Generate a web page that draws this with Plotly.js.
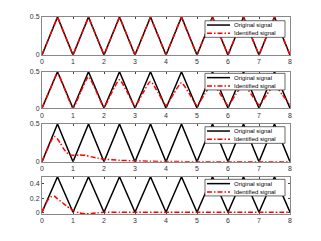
<!DOCTYPE html>
<html><head><meta charset="utf-8">
<script src="https://cdn.plot.ly/plotly-3.0.1.min.js"></script>
<style>html,body{margin:0;padding:0;background:#fff}#c{width:321px;height:241px}</style>
</head><body><div id="c"></div>
<script>
// Original triangle signal
var xOrig = [0,0.5,1,1.5,2,2.5,3,3.5,4,4.5,5,5.5,6,6.5,7,7.5,8];
var yOrig = [0,0.5,0,0.5,0,0.5,0,0.5,0,0.5,0,0.5,0,0.5,0,0.5,0];

// Identified signal, panel 1 (matches original)
var xId1 = [0,0.5,1,1.5,2,2.5,3,3.5,4,4.5,5,5.5,6,6.5,7,7.5,8];
var yId1 = [0,0.5,0,0.5,0,0.5,0,0.5,0,0.5,0,0.5,0,0.5,0,0.5,0];

// Identified signal, panel 2
var xId2 = [0,0.25,0.5,0.75,1,1.25,1.5,1.75,2,2.25,2.5,2.75,3,3.25,3.5,3.75,4,4.25,4.5,4.75,5,5.25,5.5,5.75,6,6.25,6.5,6.75,7,7.25,7.5,7.75,8];
var yId2 = [0,0.245,0.475,0.245,0.005,0.225,0.43,0.23,0.02,0.215,0.39,0.22,0.03,0.205,0.365,0.21,0.04,0.2,0.35,0.2,0.042,0.195,0.335,0.195,0.045,0.19,0.325,0.19,0.05,0.185,0.315,0.185,0.055];

// Identified signal, panel 3
var xId3 = [0,0.1,0.2,0.3,0.4,0.5,0.6,0.7,0.8,0.9,1.0,1.2,1.4,1.6,1.8,2.0,2.5,3,3.5,4,5,6,7,8];
var yId3 = [0,0.1,0.19,0.28,0.335,0.3,0.24,0.17,0.12,0.095,0.085,0.09,0.085,0.065,0.048,0.035,0.02,0.012,0.007,0.004,0.001,0,0,0];

// Identified signal, panel 4
var xId4 = [0,0.1,0.2,0.3,0.4,0.5,0.6,0.7,0.8,0.9,1.0,1.2,1.4,1.6,1.8,2.0,2.5,3,4,5,6,7,8];
var yId4 = [0,0.1,0.18,0.22,0.225,0.19,0.155,0.12,0.085,0.055,0.027,-0.01,-0.022,-0.018,-0.009,0,0,0,0,0,0,0,0];

var names = ['Original signal','Identified signal'];
var yTicks = [[0,0.5],[0,0.5],[0,0.5],[0,0.2,0.4]];
var yTickText = [['0','0.5'],['0','0.5'],['0','0.5'],['0','0.2','0.4']];
var yRanges = [[0,0.5],[0,0.5],[0,0.5],[-0.025,0.5]];
var xTicks = [0,1,2,3,4,5,6,7,8];

var ids = [[xId1,yId1],[xId2,yId2],[xId3,yId3],[xId4,yId4]];
var domains = [[0.807,1.0],[0.537,0.722],[0.265,0.457],[0,0.189]];
var legTops = [0.981,0.714,0.443,0.176];

var redDash = '5px,2px,1.5px,2px';
var data = [];
var shapes = [];
var annotations = [];
var layout = {
  width:321, height:241,
  margin:{l:42,r:31,t:17,b:27},
  paper_bgcolor:'#fff', plot_bgcolor:'#fff',
  font:{family:'Liberation Sans, Arial, sans-serif', size:7, color:'#333'},
  showlegend:false
};
var plotH = 197, plotW = 248;
var lx0 = (205-42)/plotW, lx1 = (285-42)/plotW;
var sx0 = (207-42)/plotW, sx1 = (230-42)/plotW, tx = (231.5-42)/plotW;
for (var i=0;i<4;i++){
  var s = i===0?'':String(i+1);
  data.push({x:xOrig,y:yOrig,xaxis:'x'+s,yaxis:'y'+s,mode:'lines',name:names[0],
    line:{color:'#000',width:1.5}});
  data.push({x:ids[i][0],y:ids[i][1],xaxis:'x'+s,yaxis:'y'+s,mode:'lines',name:names[1],
    line:{color:'#ff0000',width:1.5,dash:redDash,shape:i===0?'linear':'spline',smoothing:0.6}});
  layout['xaxis'+s] = {domain:[0,1],anchor:'y'+s,range:[0,8],tickvals:xTicks,ticktext:xTicks.map(String),
    ticks:'inside',ticklen:2,tickcolor:'#444',showline:true,linecolor:'#888',linewidth:1,mirror:'ticks',
    showgrid:false,zeroline:false,tickfont:{size:7,color:'#333'},fixedrange:true};
  layout['yaxis'+s] = {domain:domains[i],anchor:'x'+s,range:yRanges[i],tickvals:yTicks[i],ticktext:yTickText[i],
    ticks:'inside',ticklen:2,tickcolor:'#444',showline:true,linecolor:'#888',linewidth:1,mirror:'ticks',
    showgrid:false,zeroline:false,tickfont:{size:7,color:'#333'},fixedrange:true};
  // legend box drawn as layout decoration
  var legT = legTops[i], legB = legT - 16.6/plotH;
  var ly1 = legT - 4.3/plotH, ly2 = legT - 12.6/plotH;
  shapes.push({type:'rect',xref:'paper',yref:'paper',x0:lx0,x1:lx1,y0:legB,y1:legT,
    fillcolor:'#fff',line:{color:'#444',width:0.8},layer:'above'});
  shapes.push({type:'line',xref:'paper',yref:'paper',x0:sx0,x1:sx1,y0:ly1,y1:ly1,
    line:{color:'#000',width:1.5},layer:'above'});
  shapes.push({type:'line',xref:'paper',yref:'paper',x0:sx0,x1:sx1,y0:ly2,y1:ly2,
    line:{color:'#ff0000',width:1.5,dash:redDash},layer:'above'});
  annotations.push({xref:'paper',yref:'paper',x:tx,y:ly1,xanchor:'left',yanchor:'middle',showarrow:false,
    text:names[0],font:{size:6,color:'#000'}});
  annotations.push({xref:'paper',yref:'paper',x:tx,y:ly2,xanchor:'left',yanchor:'middle',showarrow:false,
    text:names[1],font:{size:6,color:'#000'}});
}
layout.shapes = shapes;
layout.annotations = annotations;
Plotly.newPlot('c',data,layout,{staticPlot:true});
</script></body></html>
